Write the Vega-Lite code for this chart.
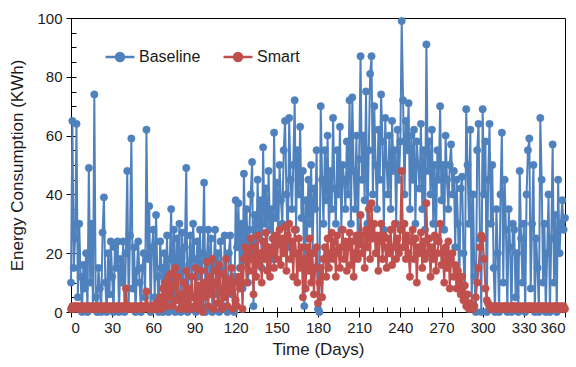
{
"$schema":"https://vega.github.io/schema/vega-lite/v6.json",
"width":494,"height":294,
"autosize":"none",
"padding":{"left":71,"top":18,"right":11,"bottom":55},
"background":"white",
"config":{"font":"Liberation Sans","view":{"stroke":"#000","strokeWidth":1},
"axis":{"grid":false,"domainColor":"#000","tickColor":"#000","labelColor":"#1a1a1a","titleColor":"#1a1a1a","labelFontSize":15,"titleFontSize":17,"titleFontWeight":"normal"}},
"data":{"values":[
{"d":0,"Baseline":10,"Smart":1},{"d":1,"Baseline":65,"Smart":2},{"d":2,"Baseline":15,"Smart":1},{"d":3,"Baseline":25,"Smart":2},{"d":4,"Baseline":64,"Smart":2},{"d":5,"Baseline":5,"Smart":1},{"d":6,"Baseline":30,"Smart":2},{"d":7,"Baseline":12,"Smart":1},{"d":8,"Baseline":0,"Smart":2},{"d":9,"Baseline":16,"Smart":1},{"d":10,"Baseline":8,"Smart":2},
{"d":11,"Baseline":20,"Smart":1},{"d":12,"Baseline":0,"Smart":2},{"d":13,"Baseline":49,"Smart":2},{"d":14,"Baseline":10,"Smart":1},{"d":15,"Baseline":30,"Smart":2},{"d":16,"Baseline":2,"Smart":1},{"d":17,"Baseline":74,"Smart":2},{"d":18,"Baseline":5,"Smart":1},{"d":19,"Baseline":0,"Smart":2},{"d":20,"Baseline":15,"Smart":1},
{"d":21,"Baseline":8,"Smart":2},{"d":22,"Baseline":0,"Smart":2},{"d":23,"Baseline":27,"Smart":1},{"d":24,"Baseline":39,"Smart":2},{"d":25,"Baseline":10,"Smart":1},{"d":26,"Baseline":0,"Smart":2},{"d":27,"Baseline":20,"Smart":1},{"d":28,"Baseline":6,"Smart":2},{"d":29,"Baseline":24,"Smart":1},{"d":30,"Baseline":12,"Smart":2},
{"d":31,"Baseline":0,"Smart":1},{"d":32,"Baseline":22,"Smart":2},{"d":33,"Baseline":15,"Smart":1},{"d":34,"Baseline":24,"Smart":2},{"d":35,"Baseline":0,"Smart":2},{"d":36,"Baseline":18,"Smart":1},{"d":37,"Baseline":10,"Smart":2},{"d":38,"Baseline":24,"Smart":1},{"d":39,"Baseline":0,"Smart":2},{"d":40,"Baseline":20,"Smart":8},
{"d":41,"Baseline":48,"Smart":2},{"d":42,"Baseline":2,"Smart":1},{"d":43,"Baseline":26,"Smart":2},{"d":44,"Baseline":59,"Smart":1},{"d":45,"Baseline":8,"Smart":2},{"d":46,"Baseline":22,"Smart":1},{"d":47,"Baseline":0,"Smart":2},{"d":48,"Baseline":14,"Smart":1},{"d":49,"Baseline":24,"Smart":2},{"d":50,"Baseline":10,"Smart":1},
{"d":51,"Baseline":0,"Smart":2},{"d":52,"Baseline":15,"Smart":2},{"d":53,"Baseline":20,"Smart":1},{"d":54,"Baseline":5,"Smart":2},{"d":55,"Baseline":62,"Smart":7},{"d":56,"Baseline":18,"Smart":2},{"d":57,"Baseline":36,"Smart":1},{"d":58,"Baseline":0,"Smart":2},{"d":59,"Baseline":22,"Smart":1},{"d":60,"Baseline":28,"Smart":2},
{"d":61,"Baseline":5,"Smart":1},{"d":62,"Baseline":33,"Smart":3},{"d":63,"Baseline":12,"Smart":1},{"d":64,"Baseline":0,"Smart":2},{"d":65,"Baseline":24,"Smart":5},{"d":66,"Baseline":15,"Smart":1},{"d":67,"Baseline":0,"Smart":8},{"d":68,"Baseline":20,"Smart":3},{"d":69,"Baseline":8,"Smart":10},{"d":70,"Baseline":26,"Smart":2},
{"d":71,"Baseline":0,"Smart":12},{"d":72,"Baseline":18,"Smart":5},{"d":73,"Baseline":35,"Smart":13},{"d":74,"Baseline":4,"Smart":2},{"d":75,"Baseline":28,"Smart":9},{"d":76,"Baseline":0,"Smart":15},{"d":77,"Baseline":25,"Smart":4},{"d":78,"Baseline":12,"Smart":12},{"d":79,"Baseline":30,"Smart":1},{"d":80,"Baseline":0,"Smart":6},
{"d":81,"Baseline":27,"Smart":2},{"d":82,"Baseline":10,"Smart":10},{"d":83,"Baseline":22,"Smart":1},{"d":84,"Baseline":49,"Smart":14},{"d":85,"Baseline":0,"Smart":3},{"d":86,"Baseline":16,"Smart":8},{"d":87,"Baseline":26,"Smart":1},{"d":88,"Baseline":5,"Smart":12},{"d":89,"Baseline":30,"Smart":5},{"d":90,"Baseline":18,"Smart":2},
{"d":91,"Baseline":0,"Smart":15},{"d":92,"Baseline":24,"Smart":1},{"d":93,"Baseline":12,"Smart":9},{"d":94,"Baseline":28,"Smart":3},{"d":95,"Baseline":2,"Smart":14},{"d":96,"Baseline":20,"Smart":0},{"d":97,"Baseline":44,"Smart":10},{"d":98,"Baseline":0,"Smart":5},{"d":99,"Baseline":18,"Smart":17},{"d":100,"Baseline":28,"Smart":2},
{"d":101,"Baseline":8,"Smart":12},{"d":102,"Baseline":25,"Smart":6},{"d":103,"Baseline":0,"Smart":18},{"d":104,"Baseline":15,"Smart":1},{"d":105,"Baseline":28,"Smart":10},{"d":106,"Baseline":6,"Smart":14},{"d":107,"Baseline":20,"Smart":3},{"d":108,"Baseline":0,"Smart":16},{"d":109,"Baseline":24,"Smart":8},{"d":110,"Baseline":14,"Smart":1},
{"d":111,"Baseline":2,"Smart":13},{"d":112,"Baseline":26,"Smart":5},{"d":113,"Baseline":10,"Smart":18},{"d":114,"Baseline":0,"Smart":2},{"d":115,"Baseline":20,"Smart":11},{"d":116,"Baseline":26,"Smart":7},{"d":117,"Baseline":6,"Smart":15},{"d":118,"Baseline":12,"Smart":1},{"d":119,"Baseline":0,"Smart":10},{"d":120,"Baseline":38,"Smart":4},
{"d":121,"Baseline":22,"Smart":2},{"d":122,"Baseline":37,"Smart":12},{"d":123,"Baseline":15,"Smart":8},{"d":124,"Baseline":30,"Smart":15},{"d":125,"Baseline":8,"Smart":1},{"d":126,"Baseline":47,"Smart":18},{"d":127,"Baseline":24,"Smart":22},{"d":128,"Baseline":35,"Smart":10},{"d":129,"Baseline":10,"Smart":20},{"d":130,"Baseline":28,"Smart":14},
{"d":131,"Baseline":40,"Smart":25},{"d":132,"Baseline":51,"Smart":18},{"d":133,"Baseline":2,"Smart":6},{"d":134,"Baseline":33,"Smart":22},{"d":135,"Baseline":20,"Smart":12},{"d":136,"Baseline":45,"Smart":26},{"d":137,"Baseline":25,"Smart":16},{"d":138,"Baseline":38,"Smart":20},{"d":139,"Baseline":15,"Smart":10},{"d":140,"Baseline":56,"Smart":24},
{"d":141,"Baseline":30,"Smart":18},{"d":142,"Baseline":42,"Smart":27},{"d":143,"Baseline":22,"Smart":14},{"d":144,"Baseline":48,"Smart":22},{"d":145,"Baseline":28,"Smart":12},{"d":146,"Baseline":35,"Smart":20},{"d":147,"Baseline":18,"Smart":25},{"d":148,"Baseline":61,"Smart":15},{"d":149,"Baseline":32,"Smart":26},{"d":150,"Baseline":44,"Smart":18},
{"d":151,"Baseline":25,"Smart":23},{"d":152,"Baseline":50,"Smart":28},{"d":153,"Baseline":38,"Smart":16},{"d":154,"Baseline":30,"Smart":25},{"d":155,"Baseline":55,"Smart":20},{"d":156,"Baseline":65,"Smart":29},{"d":157,"Baseline":40,"Smart":14},{"d":158,"Baseline":22,"Smart":26},{"d":159,"Baseline":66,"Smart":30},{"d":160,"Baseline":45,"Smart":18},
{"d":161,"Baseline":35,"Smart":24},{"d":162,"Baseline":50,"Smart":12},{"d":163,"Baseline":72,"Smart":28},{"d":164,"Baseline":28,"Smart":20},{"d":165,"Baseline":55,"Smart":10},{"d":166,"Baseline":40,"Smart":25},{"d":167,"Baseline":63,"Smart":15},{"d":168,"Baseline":32,"Smart":22},{"d":169,"Baseline":48,"Smart":5},{"d":170,"Baseline":2,"Smart":18},
{"d":171,"Baseline":38,"Smart":8},{"d":172,"Baseline":25,"Smart":22},{"d":173,"Baseline":45,"Smart":14},{"d":174,"Baseline":30,"Smart":25},{"d":175,"Baseline":50,"Smart":10},{"d":176,"Baseline":20,"Smart":20},{"d":177,"Baseline":42,"Smart":6},{"d":178,"Baseline":35,"Smart":15},{"d":179,"Baseline":55,"Smart":22},{"d":180,"Baseline":1,"Smart":3},
{"d":181,"Baseline":0,"Smart":10},{"d":182,"Baseline":70,"Smart":15},{"d":183,"Baseline":45,"Smart":5},{"d":184,"Baseline":30,"Smart":18},{"d":185,"Baseline":55,"Smart":22},{"d":186,"Baseline":38,"Smart":12},{"d":187,"Baseline":60,"Smart":25},{"d":188,"Baseline":25,"Smart":15},{"d":189,"Baseline":48,"Smart":20},{"d":190,"Baseline":35,"Smart":27},
{"d":191,"Baseline":66,"Smart":18},{"d":192,"Baseline":42,"Smart":24},{"d":193,"Baseline":30,"Smart":12},{"d":194,"Baseline":55,"Smart":26},{"d":195,"Baseline":40,"Smart":20},{"d":196,"Baseline":63,"Smart":15},{"d":197,"Baseline":28,"Smart":22},{"d":198,"Baseline":50,"Smart":28},{"d":199,"Baseline":45,"Smart":18},{"d":200,"Baseline":35,"Smart":24},
{"d":201,"Baseline":58,"Smart":14},{"d":202,"Baseline":40,"Smart":22},{"d":203,"Baseline":72,"Smart":27},{"d":204,"Baseline":30,"Smart":16},{"d":205,"Baseline":73,"Smart":24},{"d":206,"Baseline":48,"Smart":12},{"d":207,"Baseline":35,"Smart":20},{"d":208,"Baseline":60,"Smart":26},{"d":209,"Baseline":25,"Smart":18},{"d":210,"Baseline":52,"Smart":23},
{"d":211,"Baseline":87,"Smart":33},{"d":212,"Baseline":45,"Smart":20},{"d":213,"Baseline":60,"Smart":26},{"d":214,"Baseline":38,"Smart":15},{"d":215,"Baseline":75,"Smart":28},{"d":216,"Baseline":30,"Smart":22},{"d":217,"Baseline":55,"Smart":35},{"d":218,"Baseline":81,"Smart":18},{"d":219,"Baseline":87,"Smart":37},{"d":220,"Baseline":40,"Smart":25},
{"d":221,"Baseline":70,"Smart":30},{"d":222,"Baseline":50,"Smart":20},{"d":223,"Baseline":35,"Smart":26},{"d":224,"Baseline":62,"Smart":14},{"d":225,"Baseline":45,"Smart":24},{"d":226,"Baseline":74,"Smart":30},{"d":227,"Baseline":58,"Smart":18},{"d":228,"Baseline":28,"Smart":26},{"d":229,"Baseline":66,"Smart":22},{"d":230,"Baseline":50,"Smart":15},
{"d":231,"Baseline":40,"Smart":25},{"d":232,"Baseline":60,"Smart":20},{"d":233,"Baseline":35,"Smart":28},{"d":234,"Baseline":65,"Smart":16},{"d":235,"Baseline":48,"Smart":22},{"d":236,"Baseline":55,"Smart":30},{"d":237,"Baseline":30,"Smart":18},{"d":238,"Baseline":62,"Smart":25},{"d":239,"Baseline":45,"Smart":20},{"d":240,"Baseline":58,"Smart":28},
{"d":241,"Baseline":99,"Smart":48},{"d":242,"Baseline":72,"Smart":22},{"d":243,"Baseline":40,"Smart":30},{"d":244,"Baseline":65,"Smart":18},{"d":245,"Baseline":55,"Smart":26},{"d":246,"Baseline":71,"Smart":20},{"d":247,"Baseline":35,"Smart":12},{"d":248,"Baseline":60,"Smart":24},{"d":249,"Baseline":45,"Smart":28},{"d":250,"Baseline":62,"Smart":18},
{"d":251,"Baseline":30,"Smart":25},{"d":252,"Baseline":58,"Smart":10},{"d":253,"Baseline":50,"Smart":22},{"d":254,"Baseline":42,"Smart":20},{"d":255,"Baseline":64,"Smart":27},{"d":256,"Baseline":35,"Smart":15},{"d":257,"Baseline":55,"Smart":24},{"d":258,"Baseline":28,"Smart":18},{"d":259,"Baseline":91,"Smart":37},{"d":260,"Baseline":48,"Smart":20},
{"d":261,"Baseline":58,"Smart":25},{"d":262,"Baseline":40,"Smart":12},{"d":263,"Baseline":62,"Smart":22},{"d":264,"Baseline":30,"Smart":18},{"d":265,"Baseline":50,"Smart":26},{"d":266,"Baseline":25,"Smart":14},{"d":267,"Baseline":55,"Smart":20},{"d":268,"Baseline":45,"Smart":24},{"d":269,"Baseline":70,"Smart":30},{"d":270,"Baseline":38,"Smart":16},
{"d":271,"Baseline":50,"Smart":20},{"d":272,"Baseline":28,"Smart":10},{"d":273,"Baseline":60,"Smart":22},{"d":274,"Baseline":45,"Smart":15},{"d":275,"Baseline":35,"Smart":24},{"d":276,"Baseline":50,"Smart":8},{"d":277,"Baseline":57,"Smart":18},{"d":278,"Baseline":40,"Smart":20},{"d":279,"Baseline":48,"Smart":12},{"d":280,"Baseline":22,"Smart":16},
{"d":281,"Baseline":45,"Smart":8},{"d":282,"Baseline":30,"Smart":14},{"d":283,"Baseline":10,"Smart":10},{"d":284,"Baseline":42,"Smart":6},{"d":285,"Baseline":46,"Smart":12},{"d":286,"Baseline":20,"Smart":4},{"d":287,"Baseline":5,"Smart":9},{"d":288,"Baseline":69,"Smart":2},{"d":289,"Baseline":50,"Smart":6},{"d":290,"Baseline":30,"Smart":1},
{"d":291,"Baseline":62,"Smart":3},{"d":292,"Baseline":2,"Smart":2},{"d":293,"Baseline":40,"Smart":1},{"d":294,"Baseline":12,"Smart":2},{"d":295,"Baseline":0,"Smart":5},{"d":296,"Baseline":55,"Smart":10},{"d":297,"Baseline":64,"Smart":15},{"d":298,"Baseline":25,"Smart":22},{"d":299,"Baseline":0,"Smart":26},{"d":300,"Baseline":69,"Smart":25},
{"d":301,"Baseline":40,"Smart":18},{"d":302,"Baseline":58,"Smart":8},{"d":303,"Baseline":0,"Smart":4},{"d":304,"Baseline":45,"Smart":3},{"d":305,"Baseline":64,"Smart":2},{"d":306,"Baseline":30,"Smart":1},{"d":307,"Baseline":50,"Smart":2},{"d":308,"Baseline":15,"Smart":1},{"d":309,"Baseline":0,"Smart":2},{"d":310,"Baseline":35,"Smart":2},
{"d":311,"Baseline":20,"Smart":1},{"d":312,"Baseline":0,"Smart":2},{"d":313,"Baseline":40,"Smart":1},{"d":314,"Baseline":61,"Smart":2},{"d":315,"Baseline":10,"Smart":1},{"d":316,"Baseline":45,"Smart":2},{"d":317,"Baseline":28,"Smart":2},{"d":318,"Baseline":0,"Smart":1},{"d":319,"Baseline":35,"Smart":2},{"d":320,"Baseline":22,"Smart":1},
{"d":321,"Baseline":0,"Smart":2},{"d":322,"Baseline":30,"Smart":1},{"d":323,"Baseline":28,"Smart":2},{"d":324,"Baseline":5,"Smart":2},{"d":325,"Baseline":20,"Smart":1},{"d":326,"Baseline":0,"Smart":2},{"d":327,"Baseline":48,"Smart":1},{"d":328,"Baseline":25,"Smart":2},{"d":329,"Baseline":10,"Smart":1},{"d":330,"Baseline":30,"Smart":2},
{"d":331,"Baseline":0,"Smart":1},{"d":332,"Baseline":40,"Smart":2},{"d":333,"Baseline":55,"Smart":1},{"d":334,"Baseline":59,"Smart":2},{"d":335,"Baseline":8,"Smart":2},{"d":336,"Baseline":30,"Smart":1},{"d":337,"Baseline":50,"Smart":2},{"d":338,"Baseline":0,"Smart":1},{"d":339,"Baseline":25,"Smart":2},{"d":340,"Baseline":15,"Smart":1},
{"d":341,"Baseline":0,"Smart":2},{"d":342,"Baseline":66,"Smart":1},{"d":343,"Baseline":45,"Smart":2},{"d":344,"Baseline":10,"Smart":2},{"d":345,"Baseline":30,"Smart":1},{"d":346,"Baseline":0,"Smart":2},{"d":347,"Baseline":20,"Smart":1},{"d":348,"Baseline":40,"Smart":2},{"d":349,"Baseline":0,"Smart":1},{"d":350,"Baseline":25,"Smart":2},
{"d":351,"Baseline":57,"Smart":1},{"d":352,"Baseline":10,"Smart":2},{"d":353,"Baseline":33,"Smart":2},{"d":354,"Baseline":0,"Smart":1},{"d":355,"Baseline":45,"Smart":2},{"d":356,"Baseline":20,"Smart":1},{"d":357,"Baseline":30,"Smart":2},{"d":358,"Baseline":38,"Smart":1},{"d":359,"Baseline":28,"Smart":2},{"d":360,"Baseline":32,"Smart":1}
]},
"transform":[{"fold":["Baseline","Smart"],"as":["series","kwh"]}],
"layer":[
{"transform":[{"filter":"datum.series === 'Baseline'"}],
 "mark":{"type":"line","strokeWidth":2},
 "encoding":{
  "x":{"field":"d","type":"quantitative","scale":{"domain":[0,360],"nice":false,"zero":false},"axis":{"orient":"bottom","values":[0,30,60,90,120,150,180,210,240,270,300,330,360],"tickSize":5,"labelPadding":3,"title":"Time (Days)","titlePadding":6}},
  "y":{"field":"kwh","type":"quantitative","scale":{"domain":[0,100],"nice":false},"axis":{"orient":"left","values":[0,20,40,60,80,100],"tickSize":5,"labelPadding":4,"title":"Energy Consumption (KWh)","titlePadding":10}},
  "stroke":{"field":"series","type":"nominal","scale":{"domain":["Baseline","Smart"],"range":["#4F81BD","#C0504D"]},"legend":{"orient":"none","legendX":41,"legendY":31,"direction":"horizontal","title":null,"symbolType":"M-2.9,0L2.9,0M-0.8,0A0.8,0.8,0,1,1,0.8,0A0.8,0.8,0,1,1,-0.8,0","symbolSize":100,"symbolStrokeWidth":2.5,"labelFontSize":16,"labelColor":"#1a1a1a","labelOffset":11,"columnPadding":17}}
 }},
{"transform":[{"filter":"datum.series === 'Baseline'"}],
 "mark":{"type":"point","size":55,"strokeWidth":0.5,"opacity":1},
 "encoding":{
  "x":{"field":"d","type":"quantitative","axis":null},
  "y":{"field":"kwh","type":"quantitative","axis":null},
  "stroke":{"field":"series","type":"nominal","scale":{"domain":["Baseline","Smart"],"range":["#4F81BD","#C0504D"]},"legend":{"orient":"none","legendX":41,"legendY":31,"direction":"horizontal","title":null,"symbolType":"M-2.9,0L2.9,0M-0.8,0A0.8,0.8,0,1,1,0.8,0A0.8,0.8,0,1,1,-0.8,0","symbolSize":100,"symbolStrokeWidth":2.5,"labelFontSize":16,"labelColor":"#1a1a1a","labelOffset":11,"columnPadding":17}},
  "fill":{"field":"series","type":"nominal","scale":{"domain":["Baseline","Smart"],"range":["#4F81BD","#C0504D"]},"legend":{"orient":"none","legendX":41,"legendY":31,"direction":"horizontal","title":null,"symbolType":"M-2.9,0L2.9,0M-0.8,0A0.8,0.8,0,1,1,0.8,0A0.8,0.8,0,1,1,-0.8,0","symbolSize":100,"symbolStrokeWidth":2.5,"labelFontSize":16,"labelColor":"#1a1a1a","labelOffset":11,"columnPadding":17}}
 }},
{"transform":[{"filter":"datum.series === 'Smart'"}],
 "mark":{"type":"line","strokeWidth":2},
 "encoding":{
  "x":{"field":"d","type":"quantitative","axis":null},
  "y":{"field":"kwh","type":"quantitative","axis":null},
  "stroke":{"field":"series","type":"nominal","scale":{"domain":["Baseline","Smart"],"range":["#4F81BD","#C0504D"]},"legend":{"orient":"none","legendX":41,"legendY":31,"direction":"horizontal","title":null,"symbolType":"M-2.9,0L2.9,0M-0.8,0A0.8,0.8,0,1,1,0.8,0A0.8,0.8,0,1,1,-0.8,0","symbolSize":100,"symbolStrokeWidth":2.5,"labelFontSize":16,"labelColor":"#1a1a1a","labelOffset":11,"columnPadding":17}}
 }},
{"transform":[{"filter":"datum.series === 'Smart'"}],
 "mark":{"type":"point","size":55,"strokeWidth":0.5,"opacity":1},
 "encoding":{
  "x":{"field":"d","type":"quantitative","axis":null},
  "y":{"field":"kwh","type":"quantitative","axis":null},
  "stroke":{"field":"series","type":"nominal","scale":{"domain":["Baseline","Smart"],"range":["#4F81BD","#C0504D"]},"legend":{"orient":"none","legendX":41,"legendY":31,"direction":"horizontal","title":null,"symbolType":"M-2.9,0L2.9,0M-0.8,0A0.8,0.8,0,1,1,0.8,0A0.8,0.8,0,1,1,-0.8,0","symbolSize":100,"symbolStrokeWidth":2.5,"labelFontSize":16,"labelColor":"#1a1a1a","labelOffset":11,"columnPadding":17}},
  "fill":{"field":"series","type":"nominal","scale":{"domain":["Baseline","Smart"],"range":["#4F81BD","#C0504D"]},"legend":{"orient":"none","legendX":41,"legendY":31,"direction":"horizontal","title":null,"symbolType":"M-2.9,0L2.9,0M-0.8,0A0.8,0.8,0,1,1,0.8,0A0.8,0.8,0,1,1,-0.8,0","symbolSize":100,"symbolStrokeWidth":2.5,"labelFontSize":16,"labelColor":"#1a1a1a","labelOffset":11,"columnPadding":17}}
 }},
{"transform":[{"filter":"datum.series === 'Smart'"}],
 "mark":{"type":"point","opacity":0,"size":1},
 "encoding":{
  "x":{"field":"d","type":"quantitative","axis":{"orient":"bottom","values":[0,10,20,30,40,50,60,70,80,90,100,110,120,130,140,150,160,170,180,190,200,210,220,230,240,250,260,270,280,290,300,310,320,330,340,350,360],"tickSize":-5,"labels":false,"domain":false,"title":null}},
  "y":{"field":"kwh","type":"quantitative","axis":{"orient":"left","values":[0,5,10,15,20,25,30,35,40,45,50,55,60,65,70,75,80,85,90,95,100],"tickSize":-5,"labels":false,"domain":false,"title":null}}
 }}
],
"resolve":{"axis":{"x":"independent","y":"independent"}}
}
